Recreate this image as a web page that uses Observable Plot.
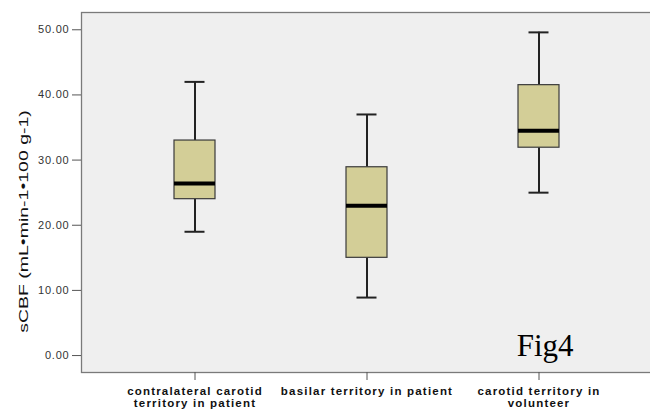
<!DOCTYPE html>
<html><head><meta charset="utf-8">
<script src="https://cdn.jsdelivr.net/npm/d3@7"></script>
<script src="https://cdn.jsdelivr.net/npm/@observablehq/plot@0.6"></script>
<style>
body{margin:0;background:#fff}
g[aria-label="x-axis tick label"] text{letter-spacing:1.2px}
g[aria-label="y-axis tick label"] text{letter-spacing:0.8px}
</style>
</head><body><div id="chart"></div>
<script>
const categories = ["contralateral carotid territory in patient", "basilar territory in patient", "carotid territory in volunteer"];
const tickLabels = ["contralateral carotid\nterritory in patient", "basilar territory in patient", "carotid territory in\nvolunteer"];
const mins = [19.0, 8.9, 25.0];
const q1s = [24.0, 15.0, 31.9];
const medians = [26.4, 23.0, 34.5];
const q3s = [33.0, 28.9, 41.5];
const maxs = [42.0, 37.0, 49.6];
const yTicks = [0, 10, 20, 30, 40, 50];
const yLabel = "sCBF (mL\u2022min-1\u2022100 g-1)";
const annotation = "Fig4";

const data = categories.map((c, i) => ({category: c, min: mins[i], q1: q1s[i], median: medians[i], q3: q3s[i], max: maxs[i]}));
const labelOf = new Map(categories.map((c, i) => [c, tickLabels[i]]));

const whisker = {stroke: "#222", strokeWidth: 2};
const chart = Plot.plot({
  width: 650, height: 410,
  marginLeft: 81, marginRight: 0, marginTop: 12, marginBottom: 38,
  style: {fontFamily: "'Liberation Sans', Arial, sans-serif", background: "#fff"},
  x: {type: "band", domain: categories, paddingInner: 0.759, paddingOuter: 0.533, align: 0.508, axis: null},
  y: {domain: [-2.6, 52.65], axis: null},
  marks: [
    Plot.frame({fill: "#efefef", stroke: "#7a7a7a", strokeWidth: 1.3, insetRight: -3}),
    Plot.ruleX(data, {x: "category", y1: "min", y2: "q1", ...whisker}),
    Plot.ruleX(data, {x: "category", y1: "q3", y2: "max", ...whisker}),
    Plot.tickY(data, {x: "category", y: "min", ...whisker, insetLeft: 10.5, insetRight: 10.5}),
    Plot.tickY(data, {x: "category", y: "max", ...whisker, insetLeft: 10.5, insetRight: 10.5}),
    Plot.barY(data, {x: "category", y1: "q1", y2: "q3", fill: "#d3ce97", stroke: "#3a3a3a", strokeWidth: 1.2}),
    Plot.tickY(data, {x: "category", y: "median", stroke: "#000", strokeWidth: 4}),
    Plot.axisY(yTicks, {tickSize: 9, tickPadding: 3, tickFormat: d => d.toFixed(2), fontSize: 11, fill: "#333", stroke: "#555", label: null}),
    Plot.axisX(categories, {tickSize: 8, tickPadding: 5.5, tickFormat: d => labelOf.get(d), fontSize: 11.5, fontWeight: "bold", lineHeight: 1.06, fill: "#111", stroke: "#555", label: null}),
    Plot.text([yLabel], {frameAnchor: "left", rotate: -90, dx: -57.5, dy: 29, fontSize: 13, textAnchor: "middle", lineAnchor: "middle", fill: "#111"}),
    Plot.text([annotation], {frameAnchor: "bottom-right", dx: -77, dy: -17, textAnchor: "end", lineAnchor: "bottom", fontFamily: "'Liberation Serif', 'Times New Roman', serif", fontSize: 31, fill: "#000"})
  ]
});
d3.select(chart).selectAll("text")
  .filter(function() { return this.textContent === yLabel; })
  .attr("transform", function() { return (this.getAttribute("transform") || "") + " scale(1.5,1)"; });
document.getElementById("chart").append(chart);
</script>
</body></html>
